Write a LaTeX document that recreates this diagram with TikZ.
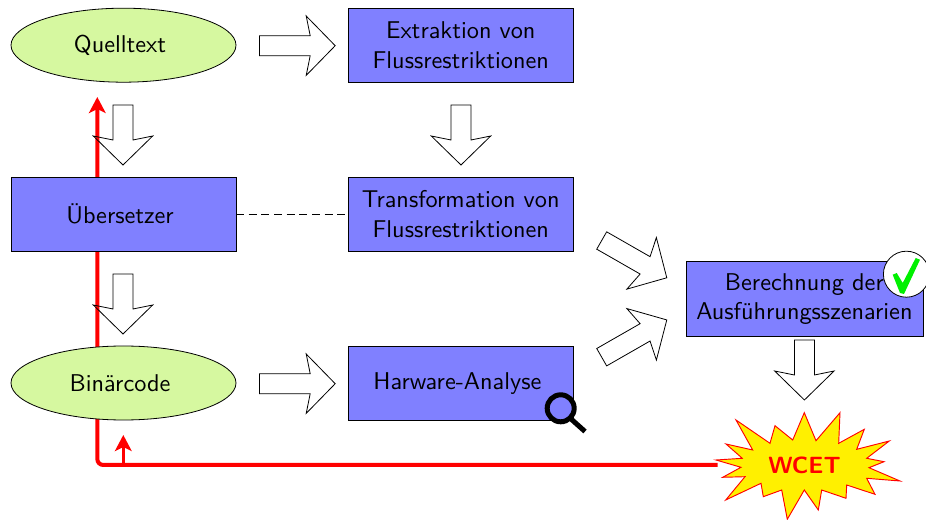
\documentclass[tikz,border=0pt]{standalone}
\usepackage{fontspec}
\setmainfont{lmsans10-regular}[Extension=.otf,BoldFont=lmsans10-bold]
\usetikzlibrary{arrows.meta,shapes.geometric}
\definecolor{boxblue}{HTML}{8080FF}
\definecolor{lightgreen}{HTML}{D6F8A0}
\definecolor{starfill}{HTML}{FFF000}
\definecolor{checkgreen}{HTML}{00F000}
\newcommand{\leftnudge}{\hspace*{5.2pt}}
\tikzset{
  base/.style={draw=black,line width=0.6pt,inner sep=0pt,outer sep=0pt,align=center,font=\fontsize{18.2}{22.2}\selectfont},
  blockbox/.style={base,rectangle,fill=boxblue,minimum width=168.75pt,minimum height=55.5pt},
  blob/.style={base,ellipse,fill=lightgreen,minimum width=168.75pt,minimum height=55.5pt},
  blockline/.style={draw=black,line width=0.6pt,miter limit=10},
  redline/.style={draw=red,line width=3pt,rounded corners=4.5pt},
  redthin/.style={draw=red,line width=2.2pt},
  pics/blockarrow/.style={code={
    \draw[blockline] (0,-10) -- ({#1-25},-10) -- ({#1-29},-29.7) -- (#1,0)
      -- ({#1-29},29.7) -- ({#1-25},10) -- (0,10) -- cycle;}},
}
\begin{document}
\begin{tikzpicture}[x=0.75pt,y=-0.75pt]
\useasboundingbox (0,0) rectangle (926,520);
% star and its label
\filldraw[draw=red,fill=starfill,line width=0.7pt,line join=miter,miter limit=10]
  (804.3,412.7) -- (816,440.7) -- (840,412.7) -- (838.7,443.3) -- (864.3,429.3)
  -- (856.7,449.3) -- (889.3,441) -- (866.7,458.3) -- (884,461.7) -- (869,467.7)
  -- (900,481) -- (866.7,478.3) -- (875,494.3) -- (846.7,485) -- (846,498.3)
  -- (821.7,490) -- (818.3,510) -- (804.3,490) -- (787.3,519.3) -- (781.7,490)
  -- (763.3,496.7) -- (761,483.3) -- (725.7,500) -- (745,476.7) -- (722.7,477.3)
  -- (741,467.3) -- (716,460) -- (742.3,458.3) -- (726,444) -- (752.7,450)
  -- (736,420) -- (770,443.3) -- (775,425.7) -- (792.7,440) -- cycle;
\node[inner sep=0pt,outer sep=0pt,minimum width=174pt*0.75,minimum height=30pt,text=red,font=\fontsize{17.6}{18}\selectfont\bfseries] (wcet) at (804.5,465) {WCET};
% red feedback
\coordinate (redtop) at (97.3,97);
\coordinate (redfoot) at (123.3,465);
\coordinate (redhead) at (123.3,435);
\draw[redline,-{Stealth[length=12pt,width=12.5pt,inset=3pt]}] (wcet.west) -- (97.3,465) -- (redtop);
\draw[redthin,-{Stealth[length=12pt,width=12.5pt,inset=3pt]}] (redfoot) -- (redhead);
% nodes
\node[blob] (quelle) at (123.5,45.2) {Quelltext\leftnudge};
\node[blob] (binaer) at (123.5,383) {Binärcode\leftnudge};
\node[blockbox] (ueber) at (123.5,214.3) {Übersetzer\leftnudge};
\node[blockbox] (extr) at (460.8,45.2) {Extraktion von\\Flussrestriktionen};
\node[blockbox] (trans) at (460.8,214.3) {Transformation von\\Flussrestriktionen};
\node[blockbox] (hw) at (460.8,383.3) {Harware-Analyse\leftnudge};
\node[blockbox,minimum width=177.75pt,minimum height=56pt] (calc) at (804.4,299) {Berechnung der\\Ausführungsszenarien};
\draw[black,line width=0.5pt,dash pattern=on 6pt off 3.5pt] (ueber) -- (trans);
% block arrows
\pic at (259.5,45.7) {blockarrow=75.7};
\pic at (259.5,383.7) {blockarrow=75.7};
\pic[rotate=-90] at (123,105) {blockarrow=60};
\pic[rotate=-90] at (123,274) {blockarrow=60};
\pic[rotate=-90] at (461,105) {blockarrow=60};
\pic[rotate=-90] at (804.4,340) {blockarrow=60};
\pic[rotate=-29.8] at (601.7,240.5) {blockarrow=75};
\pic[rotate=29.8] at (601.7,357.2) {blockarrow=75};
% magnifier
\draw[black,line width=3.75pt] (560.7,408.3) circle (13.5);
\draw[black,line width=3.75pt] (570.5,418.5) -- (585,431.5);
% check
\filldraw[draw=black,fill=white,line width=0.6pt] (906.4,274.2) circle (23);
\fill[checkgreen] (892.7,274.7) -- (896.7,273) -- (902.7,283) -- (915.7,258)
  -- (920,259.7) -- (904,294) -- (900,293) -- cycle;
\end{tikzpicture}
\end{document}
